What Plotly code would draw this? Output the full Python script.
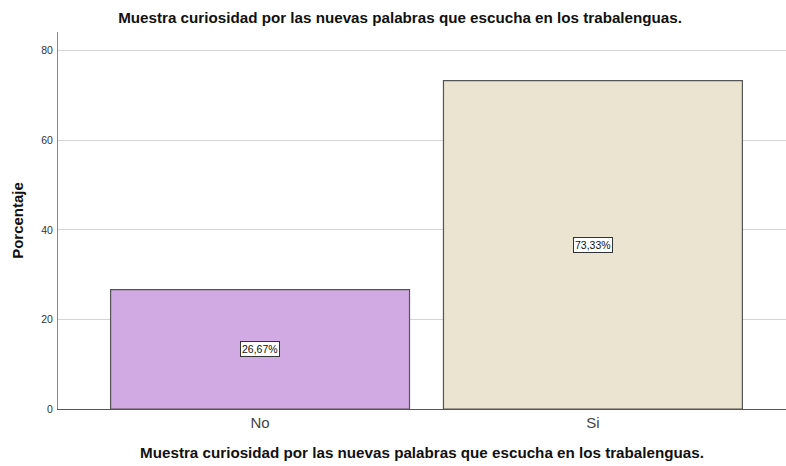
import plotly.graph_objects as go

categories = ["No", "Si"]
percentages = [26.67, 73.33]
labels = ["26,67%", "73,33%"]
bar_colors = ["#d1a9e3", "#ebe4d0"]
tick_vals = [0, 20, 40, 60, 80]

title_text = "Muestra curiosidad por las nuevas palabras que escucha en los trabalenguas."
FONT = "Arial, Liberation Sans, sans-serif"

fig = go.Figure()
fig.add_trace(go.Bar(
    x=categories, y=percentages, width=0.898,
    marker=dict(color=bar_colors, line=dict(color="#555555", width=1.2)),
    hoverinfo="skip",
))

for c, v, t in zip(categories, percentages, labels):
    fig.add_annotation(x=c, y=v / 2, text=t, showarrow=False,
                       font=dict(family=FONT, size=10.5, color="#111111"),
                       bgcolor="white", bordercolor="#333333", borderwidth=1, borderpad=1)

fig.update_layout(
    width=786, height=466,
    margin=dict(l=58, r=0, t=32, b=57),
    paper_bgcolor="white", plot_bgcolor="white",
    showlegend=False,
    title=dict(text="<b>" + title_text + "</b>", x=0.509, xref="container", xanchor="center",
               y=0.963, yref="container", yanchor="middle",
               font=dict(family=FONT, size=15.2, color="#111111")),
    xaxis=dict(range=[-0.607, 1.58], showgrid=False, showline=True, linecolor="#555555",
               linewidth=1, ticks="", tickfont=dict(family=FONT, size=15, color="#444444"),
               title=dict(text="<b>" + title_text + "</b>", standoff=17,
                          font=dict(family=FONT, size=15.2, color="#111111"))),
    yaxis=dict(range=[0, 84.2], tickvals=tick_vals, showgrid=True, gridcolor="#d4d4d4",
               gridwidth=1, showline=True, linecolor="#888888", linewidth=1, zeroline=False,
               ticks="", ticklabelstandoff=2,
               tickfont=dict(family=FONT, size=10.5, color="#333333"),
               title=dict(text="<b>Porcentaje</b>", standoff=13,
                          font=dict(family=FONT, size=15, color="#111111"))),
    bargap=0.1,
)

fig.write_html("out.html", config={"displayModeBar": False},
               post_script="document.body.style.margin='0';")
